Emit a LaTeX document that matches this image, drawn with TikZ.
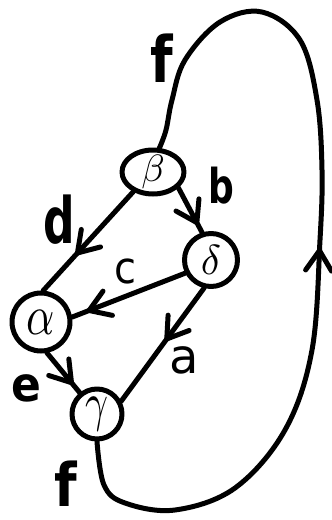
\documentclass[tikz,border=0pt]{standalone}
\usepackage{fontspec}
\newfontfamily\lab{DejaVu Sans}
\usetikzlibrary{shapes.geometric,decorations.markings}
\tikzset{
  stroke/.style={line width=5pt, line cap=round, line join=round},
  gnode/.style={circle, draw, stroke, inner sep=-2pt},
  lbl/.style={font=\lab\bfseries\fontsize{40}{40}\selectfont, inner sep=0pt},
  lbln/.style={font=\lab\fontsize{40}{40}\selectfont, inner sep=0pt},
  chevron/.style={line width=5pt, line cap=round, line join=round},
  midarrow/.style={postaction={decorate}, decoration={markings,
    mark=at position #1 with {\draw[chevron] (-20pt,13pt) -- (0pt,0pt) -- (-20pt,-13pt);}}}
}
\begin{document}
\begin{tikzpicture}[x=1pt,y=-1pt]
\useasboundingbox (0,0) rectangle (332,520);
\node[ellipse, draw, stroke, minimum width=62pt, minimum height=44pt, inner sep=-4pt] (b) at (153,172) {\scalebox{3.8}{$\beta$}};
\node[gnode, minimum size=53pt] (d) at (211,260) {\scalebox{4.2}{$\delta$}};
\node[gnode, minimum size=58pt] (al) at (41,322) {\scalebox{4.4}[5.6]{$\alpha$}};
\node[gnode, minimum size=50pt] (g) at (97,414) {\scalebox{4}[5.4]{$\gamma$}};

\draw[stroke, midarrow=0.62] (b.225) -- (al.86);
\draw[stroke, midarrow=0.78] (b.328) -- (d.108);
\draw[stroke, midarrow=0.85] (d.207) -- (al.9);
\draw[stroke, midarrow=0.45] (d.256) -- (g.28);
\draw[stroke, midarrow=0.75] (al.281) -- (g.129);

\draw[stroke, midarrow=0.5] plot[smooth, tension=0.6] coordinates {
  (g.south) (104,485) (125,503) (175,510) (235,488) (285,430) (312,350)
  (320,240) (322,170) (317,100) (300,40) (262,12) (220,22) (185,60)
  (172,100) (166,130) (b.75)};

\node[lbl] (lf1) at (162,58) {\scalebox{1.3}[1.6]{f}};
\node[lbl] (lf2) at (66,484) {\scalebox{1.3}[1.5]{f}};
\node[lbl] (ld) at (59,220) {\scalebox{1.1}[1.6]{d}};
\node[lbl] (lb) at (221,186) {\scalebox{0.9}[1.2]{b}};
\node[lbln] (lc) at (125,271) {\scalebox{1}[1.1]{c}};
\node[lbln] (la) at (184,360) {\scalebox{1.2}[1.2]{a}};
\node[lbl] (le) at (26,388) {\scalebox{1.1}[1.2]{e}};
\end{tikzpicture}
\end{document}
